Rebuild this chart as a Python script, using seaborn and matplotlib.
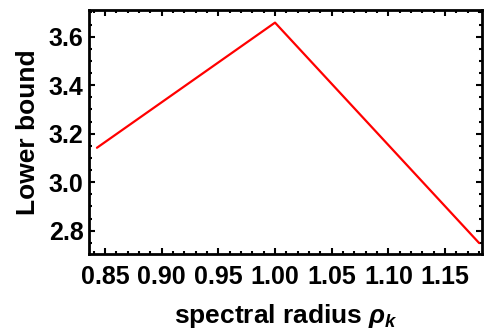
import pandas as pd
import matplotlib
matplotlib.use("Agg")
import matplotlib.pyplot as plt
from matplotlib.ticker import MultipleLocator, FormatStrFormatter
import seaborn as sns

# values
rho = [0.843, 1.0, 1.18]
lower_bound = [3.142, 3.658, 2.749]

df = pd.DataFrame({"rho": rho, "bound": lower_bound})

sns.set_style("ticks")
plt.rcParams["font.family"] = ["Liberation Sans", "DejaVu Sans"]
plt.rcParams["font.weight"] = "bold"
plt.rcParams["mathtext.fontset"] = "custom"
plt.rcParams["mathtext.it"] = "Liberation Sans:italic:bold"
plt.rcParams["mathtext.rm"] = "Liberation Sans:bold"
plt.rcParams["text.color"] = "black"
plt.rcParams["axes.labelcolor"] = "black"
plt.rcParams["xtick.color"] = "black"
plt.rcParams["ytick.color"] = "black"

fig = plt.figure(figsize=(4.88, 3.31), dpi=100)
ax = fig.add_axes([89 / 488, 1 - 254 / 331, (482 - 89) / 488, (254 - 10) / 331])

sns.lineplot(data=df, x="rho", y="bound", color="#ff0000", linewidth=1.6, ax=ax)

ax.set_xlim(0.836, 1.1825)
ax.set_ylim(2.704, 3.71)
ax.xaxis.set_major_locator(MultipleLocator(0.05))
ax.xaxis.set_minor_locator(MultipleLocator(0.01))
ax.yaxis.set_major_locator(MultipleLocator(0.2))
ax.yaxis.set_minor_locator(MultipleLocator(0.05))
ax.xaxis.set_major_formatter(FormatStrFormatter("%.2f"))
ax.yaxis.set_major_formatter(FormatStrFormatter("%.1f"))
ax.tick_params(which="both", direction="in", top=True, right=True, width=1.5,
               labelsize=18, pad=4)
ax.tick_params(axis="x", which="major", pad=8)
ax.tick_params(which="major", length=4)
ax.tick_params(which="minor", length=2.2)
for s in ax.spines.values():
    s.set_linewidth(2)
    s.set_color("black")

ax.set_xlabel(r"spectral radius $\rho_k$", fontsize=19, fontweight="bold", labelpad=9)
ax.set_ylabel("Lower bound", fontsize=19, fontweight="bold", labelpad=6)

fig.savefig("out.png", dpi=100)
